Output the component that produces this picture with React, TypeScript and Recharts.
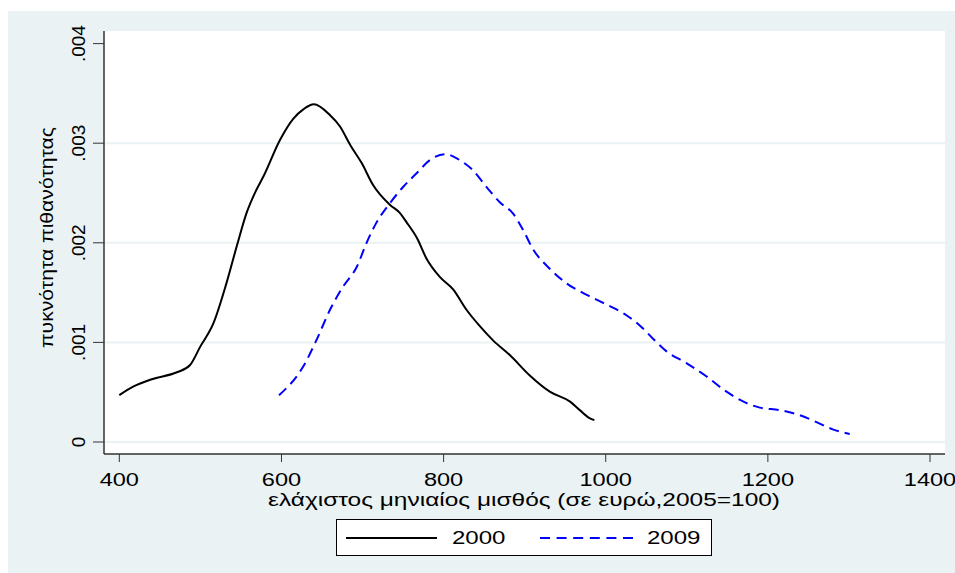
import React from "react";
import { LineChart, Line, XAxis, YAxis, CartesianGrid } from "recharts";

const years = ["2000", "2009"];
const colors = ["#000000", "#0000FF"];

const x2000 = [400, 417, 440, 471, 487, 500, 516, 532, 545, 557, 569, 578, 598, 615, 627, 640, 660, 672, 685, 699, 713, 734, 746, 754, 767, 779, 795, 812, 828, 845, 861, 882, 906, 931, 956, 968, 980, 986];
const d2000 = [0.00047, 0.000555, 0.00063, 0.0007, 0.00077, 0.00096, 0.00119, 0.00159, 0.00197, 0.0023, 0.00253, 0.00267, 0.00303, 0.00325, 0.00334, 0.00339, 0.00328, 0.00317, 0.00298, 0.0028, 0.00258, 0.00238, 0.0023, 0.00221, 0.00205, 0.00184, 0.00166, 0.00153, 0.00133, 0.00116, 0.00102, 0.00087, 0.00067, 0.000505, 0.000405, 0.00032, 0.00024, 0.00022];

const x2009 = [597, 627, 643, 660, 676, 693, 705, 717, 734, 750, 767, 783, 802, 820, 836, 853, 869, 886, 898, 910, 931, 952, 976, 1001, 1026, 1042, 1058, 1075, 1100, 1124, 1149, 1170, 1190, 1215, 1239, 1260, 1280, 1301];
const d2009 = [0.00047, 0.00076, 0.00102, 0.00133, 0.00156, 0.00176, 0.002, 0.0022, 0.0024, 0.00256, 0.0027, 0.00283, 0.00289, 0.00283, 0.00273, 0.00256, 0.00241, 0.00229, 0.00213, 0.00194, 0.00174, 0.00159, 0.00148, 0.00138, 0.00127, 0.00117, 0.00104, 0.00091, 0.00079, 0.00066, 0.000505, 0.000405, 0.000345, 0.00032, 0.00027, 0.0002, 0.000127, 0.00008];

const xTicks = [400, 600, 800, 1000, 1200, 1400];
const yTicks = [0, 0.001, 0.002, 0.003, 0.004];
const gridValues = [0, 0.001, 0.002, 0.003];

const xTitle = "ελάχιστος μηνιαίος μισθός (σε ευρώ,2005=100)";
const yTitle = "πυκνότητα πιθανότητας";

const series = [
  x2000.map((x, i) => ({ x, y: d2000[i] })),
  x2009.map((x, i) => ({ x, y: d2009[i] })),
];

const FONT = "'Liberation Sans', Arial, sans-serif";
const BG = "#EAF2F3";

const fmtY = (v: number) => (v === 0 ? "0" : v.toFixed(3).replace(/^0/, ""));

const YTick = (props: any) => {
  const { y, payload } = props;
  return (
    <text
      x={85}
      y={y}
      transform={`rotate(-90 85 ${y})`}
      textAnchor="middle"
      fontSize={19}
      fontFamily={FONT}
      fill="#000"
    >
      {fmtY(payload.value)}
    </text>
  );
};

const XTick = (props: any) => {
  const { x, payload } = props;
  const s = String(payload.value);
  return (
    <text
      x={x}
      y={485.5}
      textAnchor="middle"
      fontSize={18}
      fontFamily={FONT}
      fill="#000"
      textLength={13.1 * s.length}
      lengthAdjust="spacingAndGlyphs"
    >
      {s}
    </text>
  );
};

export default function App() {
  return (
    <div style={{ position: "absolute", left: 0, top: 0, width: 955, height: 573, background: "#fff", overflow: "hidden" }}>
      <div style={{ position: "absolute", left: 8, top: 11, width: 947, height: 562, background: BG }} />
      <div style={{ position: "absolute", left: 0, top: 0 }}>
        <LineChart width={955} height={573} margin={{ top: 31, right: 10, bottom: 89, left: 0 }}>
          <CartesianGrid
            fill="#ffffff"
            vertical={false}
            stroke={BG}
            strokeWidth={2}
            horizontalValues={gridValues}
          />
          <XAxis
            type="number"
            dataKey="x"
            domain={[381.1, 1418.5]}
            ticks={xTicks}
            allowDataOverflow
            height={30}
            tickSize={8}
            tickLine={{ stroke: "#333", strokeWidth: 1 }}
            axisLine={{ stroke: "#333", strokeWidth: 1.5 }}
            tick={<XTick />}
            label={{
              content: () => (
                <text
                  x={524}
                  y={505.5}
                  textAnchor="middle"
                  fontSize={18}
                  fontFamily={FONT}
                  fill="#000"
                  textLength={512}
                  lengthAdjust="spacingAndGlyphs"
                >
                  {xTitle}
                </text>
              ),
            }}
          />
          <YAxis
            type="number"
            domain={[-0.0001205, 0.0041265]}
            ticks={yTicks}
            allowDataOverflow
            width={104}
            tickSize={11}
            tickLine={{ stroke: "#333", strokeWidth: 1 }}
            axisLine={{ stroke: "#333", strokeWidth: 1.5 }}
            tick={<YTick />}
            label={{
              content: () => (
                <text
                  x={53}
                  y={237.5}
                  transform="rotate(-90 53 237.5)"
                  textAnchor="middle"
                  fontSize={19}
                  fontFamily={FONT}
                  fill="#000"
                  textLength={221}
                  lengthAdjust="spacingAndGlyphs"
                >
                  {yTitle}
                </text>
              ),
            }}
          />
          <Line
            data={series[0]}
            dataKey="y"
            name={years[0]}
            type="monotone"
            stroke={colors[0]}
            strokeWidth={2}
            dot={false}
            isAnimationActive={false}
          />
          <Line
            data={series[1]}
            dataKey="y"
            name={years[1]}
            type="monotone"
            stroke={colors[1]}
            strokeWidth={2}
            strokeDasharray="10 6"
            dot={false}
            isAnimationActive={false}
          />
        </LineChart>
      </div>
      <svg style={{ position: "absolute", left: 0, top: 0 }} width={955} height={573}>
        <rect x={336.5} y={519.5} width={375} height={36} fill="#fff" stroke="#000" strokeWidth={1} />
        <line x1={346} x2={437} y1={538} y2={538} stroke={colors[0]} strokeWidth={2} />
        <text x={452} y={544} fontSize={19} fontFamily={FONT} fill="#000" textLength={53.5} lengthAdjust="spacingAndGlyphs">
          {years[0]}
        </text>
        <line x1={540} x2={633} y1={538} y2={538} stroke={colors[1]} strokeWidth={2} strokeDasharray="10 6.6" />
        <text x={647} y={544} fontSize={19} fontFamily={FONT} fill="#000" textLength={53.5} lengthAdjust="spacingAndGlyphs">
          {years[1]}
        </text>
      </svg>
    </div>
  );
}
